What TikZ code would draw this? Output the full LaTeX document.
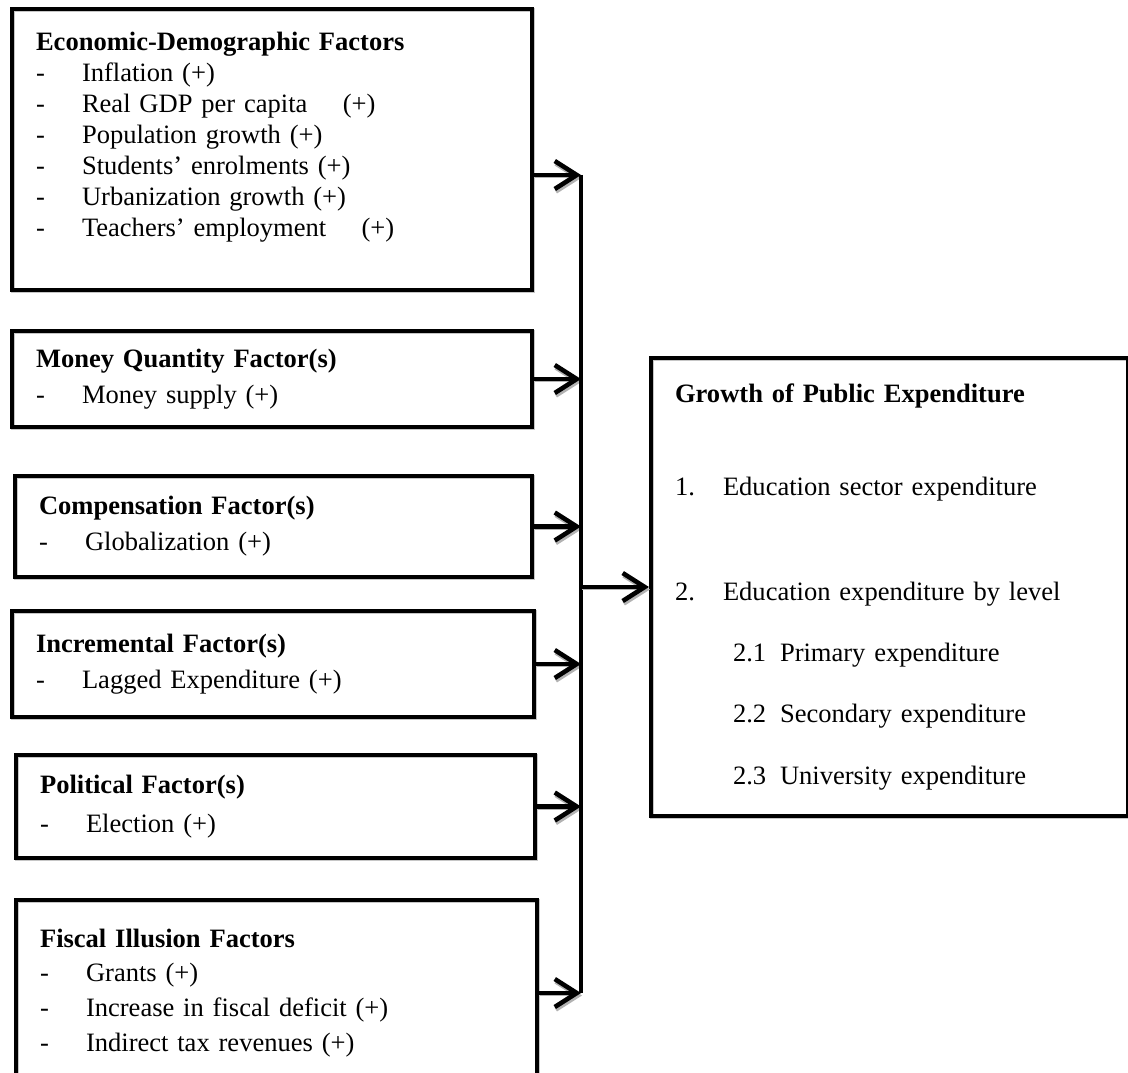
\documentclass[tikz,border=0pt]{standalone}
\usepackage{fontspec}
\setmainfont{Liberation Serif}
\usetikzlibrary{arrows.meta}

\newcommand{\dashitem}[1]{\makebox[0.92cm][l]{-}#1}
\newcommand{\numitem}[2]{\makebox[0.96cm][l]{#1}#2}
\newcommand{\levelitem}[2]{\hspace*{1.16cm}\makebox[0.94cm][l]{#1}#2}

\begin{document}
\begin{tikzpicture}[x=0.02cm,y=-0.02cm]
\tikzstyle{factor}=[draw,rectangle,line width=2.4pt,align=left,inner xsep=0.48cm,inner ysep=0pt,font=\fontsize{15.1pt}{17.6pt}\selectfont,preaction={draw=gray!45,line width=2.4pt,transform canvas={shift={(0.025cm,-0.025cm)}}}];
\tikzstyle{flow}=[line width=2.7pt,-{Straight Barb[length=0.44cm,width=0.56cm,line width=2.6pt]},preaction={draw=gray!60,transform canvas={shift={(0.02cm,-0.05cm)}}}];
\tikzstyle{bus}=[line width=2.4pt];
\useasboundingbox (0,0) rectangle (1128,1072);
\clip (0,0) rectangle (1128,1072);

% left column: groups of factors
\node[factor,text width=9.44cm,minimum height=5.62cm] (econ) at (272,149.5) {\textbf{Economic-Demographic Factors}\\
\dashitem{Inflation (+)}\\
\dashitem{Real GDP per capita \quad(+)}\\
\dashitem{Population growth (+)}\\
\dashitem{Students’ enrolments (+)}\\
\dashitem{Urbanization growth (+)}\\
\dashitem{Teachers’ employment \quad(+)}\\
\mbox{}};
\node[factor,text width=9.44cm,minimum height=1.92cm] (money) at (272,379) {\textbf{Money Quantity Factor(s)}\\[0.1cm]
\dashitem{Money supply (+)}};
\node[factor,text width=9.38cm,minimum height=2.02cm] (comp) at (273.5,526.5) {\textbf{Compensation Factor(s)}\\[0.1cm]
\dashitem{Globalization (+)}};
\node[factor,text width=9.48cm,minimum height=2.12cm] (incr) at (273,664) {\textbf{Incremental Factor(s)}\\[0.1cm]
\dashitem{Lagged Expenditure (+)}};
\node[factor,text width=9.42cm,minimum height=2.06cm] (polit) at (275.5,806.5) {\textbf{Political Factor(s)}\\[0.15cm]
\dashitem{Election (+)}};
\node[factor,text width=9.46cm,minimum height=3.72cm] (fisc) at (276.5,993) {\textbf{Fiscal Illusion Factors}\\[0.08cm]
\dashitem{Grants (+)}\\[0.08cm]
\dashitem{Increase in fiscal deficit (+)}\\[0.08cm]
\dashitem{Indirect tax revenues (+)}};

% right box
\node[factor,text width=8.58cm,minimum height=9.16cm] (goal) at (889.5,587) {\textbf{Growth of Public Expenditure}\\[1.24cm]
\numitem{1.}{Education sector expenditure}\\[1.48cm]
\numitem{2.}{Education expenditure by level}\\[0.62cm]
\levelitem{2.1}{Primary expenditure}\\[0.6cm]
\levelitem{2.2}{Secondary expenditure}\\[0.62cm]
\levelitem{2.3}{University expenditure}};

% connectors
\coordinate (bus) at (581,0);
\coordinate (e1) at ([yshift=-0.51cm]econ.east);
\draw[flow] (e1) -- (e1 -| bus);
\foreach \n in {money,comp,incr,polit,fisc}
  \draw[flow] (\n.east) -- (\n.east -| bus);
\draw[bus] (e1 -| bus) -- (fisc.east -| bus);
\draw[flow] (bus |- goal.west) -- (goal.west);
\end{tikzpicture}
\end{document}
